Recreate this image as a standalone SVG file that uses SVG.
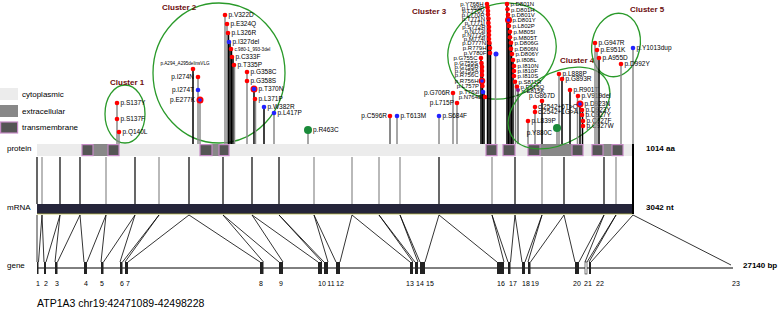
<svg xmlns="http://www.w3.org/2000/svg" width="778" height="310" viewBox="0 0 778 310">
<style>
text{font-family:"Liberation Sans",Arial,sans-serif;fill:#000}
.ax{font-size:8px}
.lbl{font-size:6.5px}
.st{font-size:6px}
.sm{font-size:4.6px}
.L{text-anchor:end}
.M{text-anchor:middle}
.cl{font-size:8px;font-weight:bold;fill:#6b0d0d}
.num{font-size:7px;text-anchor:middle}
.sg{stroke:#8a8a8a;stroke-width:1.5}
.sk{stroke:#000;stroke-width:1.5}
.r{fill:#f00}
.b{fill:#2222ff}
.g{fill:#1a8a3a}
.p{fill:#8a1a8a}
.ell{fill:none;stroke:#2a9a2a;stroke-width:1.3}
.cyto{fill:#ececec}
.extra{fill:#888}
.tm{fill:#555;stroke:#c58ac5;stroke-width:1.2}
.tk{stroke:#000;stroke-width:1.2}
.tg{stroke:#8a8a8a;stroke-width:1.2}
.cn{stroke:#000;stroke-width:0.8;fill:none}
.ex{fill:#222}
</style>

<g id="legend">
<rect class="cyto" x="0" y="88" width="18" height="12"/>
<text class="ax" x="22" y="97">cytoplasmic</text>
<rect class="extra" x="0" y="105" width="18" height="12"/>
<text class="ax" x="22" y="114">extracellular</text>
<rect class="tm" x="0.6" y="122" width="17" height="11"/>
<text class="ax" x="22" y="130">transmembrane</text>
</g>

<g id="protein">
<text class="ax" x="7" y="151">protein</text>
<rect class="cyto" x="37" y="144" width="596" height="12"/>
<rect class="extra" x="93" y="144" width="15" height="12"/>
<rect class="extra" x="212" y="144" width="7" height="12"/>
<rect class="extra" x="540" y="144" width="32" height="12"/>
<rect class="extra" x="603" y="144" width="9" height="12"/>
<rect class="tm" x="82" y="144.6" width="11" height="11"/>
<rect class="tm" x="108" y="144.6" width="11" height="11"/>
<rect class="tm" x="200" y="144.6" width="12" height="11"/>
<rect class="tm" x="219" y="144.6" width="10" height="11"/>
<rect class="tm" x="486" y="144.6" width="11" height="11"/>
<rect class="tm" x="503" y="144.6" width="12" height="11"/>
<rect class="tm" x="528" y="144.6" width="12" height="11"/>
<rect class="tm" x="572" y="144.6" width="11" height="11"/>
<rect class="tm" x="592" y="144.6" width="11" height="11"/>
<rect class="tm" x="612" y="144.6" width="11" height="11"/>
<text class="ax" x="646" y="151" font-weight="bold">1014 aa</text>
</g>

<g id="mRNA">
<text class="ax" x="7" y="210">mRNA</text>
<rect x="37" y="204" width="596" height="10" fill="#25253a"/>
<line x1="37" y1="214" x2="633" y2="214" stroke="#b8b84a" stroke-width="0.8"/>
<text class="ax" x="646" y="210" font-weight="bold">3042 nt</text>
</g>

<g id="gene">
<text class="ax" x="7" y="268">gene</text>
<line x1="37" y1="268" x2="733" y2="268" stroke="#000" stroke-width="1"/>
<rect class="ex" x="37" y="262" width="1.5" height="12"/>
<rect class="ex" x="44" y="262" width="2" height="12"/>
<rect class="ex" x="55" y="262" width="2.5" height="12"/>
<rect class="ex" x="84" y="262" width="3" height="12"/>
<rect class="ex" x="101" y="262" width="2.5" height="12"/>
<rect class="ex" x="120" y="262" width="2.5" height="12"/>
<rect class="ex" x="125" y="262" width="3" height="12"/>
<rect class="ex" x="260" y="262" width="3.5" height="12"/>
<rect class="ex" x="279" y="262" width="4" height="12"/>
<rect class="ex" x="318" y="262" width="4" height="12"/>
<rect class="ex" x="324" y="262" width="4" height="12"/>
<rect class="ex" x="336" y="262" width="4" height="12"/>
<rect class="ex" x="410" y="262" width="3" height="12"/>
<rect class="ex" x="415" y="262" width="3" height="12"/>
<rect class="ex" x="420" y="262" width="5" height="12"/>
<rect class="ex" x="497" y="262" width="7" height="12"/>
<rect class="ex" x="508" y="262" width="2.5" height="12"/>
<rect class="ex" x="522" y="262" width="3" height="12"/>
<rect class="ex" x="528" y="262" width="2.5" height="12"/>
<rect class="ex" x="575" y="262" width="4" height="12"/>
<rect x="585" y="262" width="2" height="12" fill="#fff" stroke="#222" stroke-width="0.6"/>
<rect class="ex" x="589" y="262" width="2" height="12"/>
<text class="ax" x="743" y="268" font-weight="bold">27140 bp</text>
<text class="num" x="38" y="286">1</text>
<text class="num" x="46" y="286">2</text>
<text class="num" x="57" y="286">3</text>
<text class="num" x="86" y="286">4</text>
<text class="num" x="102" y="286">5</text>
<text class="num" x="122" y="286">6</text>
<text class="num" x="128" y="286">7</text>
<text class="num" x="261" y="286">8</text>
<text class="num" x="281" y="286">9</text>
<text class="num" x="322" y="286">10</text>
<text class="num" x="331" y="286">11</text>
<text class="num" x="340" y="286">12</text>
<text class="num" x="410" y="286">13</text>
<text class="num" x="420" y="286">14</text>
<text class="num" x="430" y="286">15</text>
<text class="num" x="501" y="286">16</text>
<text class="num" x="513" y="286">17</text>
<text class="num" x="526" y="286">18</text>
<text class="num" x="535" y="286">19</text>
<text class="num" x="577" y="286">20</text>
<text class="num" x="588" y="286">21</text>
<text class="num" x="600" y="286">22</text>
<text class="num" x="736" y="286">23</text>
</g>

<g id="connectors">
<line class="tk" x1="37" y1="157" x2="37" y2="204"/>
<line class="tg" x1="42" y1="157" x2="42" y2="204"/>
<line class="tk" x1="60" y1="157" x2="60" y2="204"/>
<line class="tk" x1="80" y1="157" x2="80" y2="204"/>
<line class="tg" x1="106" y1="157" x2="106" y2="204"/>
<line class="tk" x1="135" y1="157" x2="135" y2="204"/>
<line class="tg" x1="159" y1="157" x2="159" y2="204"/>
<line class="tk" x1="189" y1="157" x2="189" y2="204"/>
<line class="tk" x1="223" y1="157" x2="223" y2="204"/>
<line class="tk" x1="252" y1="157" x2="252" y2="204"/>
<line class="tk" x1="279" y1="157" x2="279" y2="204"/>
<line class="tg" x1="314" y1="157" x2="314" y2="204"/>
<line class="tg" x1="352" y1="157" x2="352" y2="204"/>
<line class="tg" x1="379" y1="157" x2="379" y2="204"/>
<line class="tg" x1="400" y1="157" x2="400" y2="204"/>
<line class="tk" x1="439" y1="157" x2="439" y2="204"/>
<line class="tg" x1="492" y1="157" x2="492" y2="204"/>
<line class="tk" x1="515" y1="157" x2="515" y2="204"/>
<line class="tg" x1="542" y1="157" x2="542" y2="204"/>
<line class="tk" x1="564" y1="157" x2="564" y2="204"/>
<line class="tk" x1="604" y1="157" x2="604" y2="204"/>
<line class="tg" x1="616" y1="157" x2="616" y2="204"/>
<line x1="633" y1="144" x2="633" y2="214" stroke="#000" stroke-width="2"/>
<path class="cn" d="M37 215L37 262M42 215L38.5 262M42 215L44 262M60 215L46 262M60 215L55 262M80 215L57.5 262M80 215L84 262M106 215L87 262M106 215L101 262M135 215L103.5 262M135 215L120 262M159 215L122.5 262M159 215L125 262M189 215L128 262M189 215L260 262M223 215L263.5 262M223 215L279 262M252 215L283 262M252 215L318 262M279 215L322 262M279 215L324 262M314 215L328 262M314 215L336 262M352 215L340 262M352 215L410 262M379 215L413 262M379 215L415 262M400 215L418 262M400 215L420 262M439 215L425 262M439 215L497 262M492 215L504 262M492 215L508 262M515 215L510.5 262M515 215L522 262M542 215L525 262M542 215L528 262M564 215L530.5 262M564 215L575 262M604 215L579 262M604 215L585 262M616 215L587 262M616 215L589 262M633 215L591 262M633 215L731 265"/>
</g>

<g id="cluster1">
<ellipse class="ell" cx="125" cy="114" rx="20" ry="29"/>
<text class="cl" x="110" y="85">Cluster 1</text>
<line class="sg" x1="117" y1="103" x2="117" y2="144"/>
<line class="sg" x1="119" y1="132" x2="119" y2="144"/>
<circle class="r" cx="117" cy="103" r="2.3"/>
<circle class="r" cx="117" cy="119" r="2.3"/>
<circle class="r" cx="119" cy="132" r="2.3"/>
<text class="lbl" x="120.5" y="105.3">p.S137Y</text>
<text class="lbl" x="120.5" y="121.3">p.S137F</text>
<text class="lbl" x="122.5" y="134.3">p.Q140L</text>
</g>

<g id="cluster2">
<ellipse class="ell" cx="219" cy="73" rx="66" ry="70"/>
<text class="cl" x="162" y="10">Cluster 2</text>
<line class="sk" x1="193" y1="69" x2="193" y2="144"/>
<line class="sg" x1="198" y1="77" x2="198" y2="144"/>
<line class="sg" x1="200" y1="100" x2="200" y2="144"/>
<line class="sg" x1="225" y1="15" x2="225" y2="144"/>
<line class="sg" x1="227" y1="24" x2="227" y2="144"/>
<line class="sk" x1="228.5" y1="33" x2="228.5" y2="144"/>
<line class="sk" x1="230" y1="42" x2="230" y2="144"/>
<line class="sk" x1="231.5" y1="49" x2="231.5" y2="144"/>
<line class="sk" x1="233" y1="57" x2="233" y2="144"/>
<line class="sg" x1="234.5" y1="65" x2="234.5" y2="144"/>
<line class="sg" x1="247" y1="72" x2="247" y2="144"/>
<line class="sk" x1="254" y1="89" x2="254" y2="144"/>
<line class="sg" x1="255.5" y1="99" x2="255.5" y2="144"/>
<line class="sk" x1="264" y1="107" x2="264" y2="144"/>
<line class="sg" x1="274" y1="113" x2="274" y2="144"/>
<circle class="r" cx="193" cy="69" r="2.3"/>
<circle class="r" cx="198" cy="77" r="2.3"/>
<circle class="b" cx="198" cy="90" r="2.3"/>
<circle class="r" cx="200" cy="100" r="3.5"/>
<circle class="b" cx="200" cy="100" r="1.8"/>
<circle class="r" cx="225" cy="15" r="2.3"/>
<circle class="r" cx="227" cy="24" r="2.3"/>
<circle class="r" cx="228" cy="33" r="2.3"/>
<circle class="b" cx="229" cy="42" r="2.3"/>
<circle class="r" cx="231" cy="49" r="2.3"/>
<circle class="r" cx="232" cy="57" r="2.3"/>
<circle class="r" cx="234" cy="65" r="2.3"/>
<circle class="r" cx="247" cy="72" r="2.3"/>
<circle class="r" cx="247" cy="81" r="2.3"/>
<circle class="r" cx="254" cy="89" r="3.5"/>
<circle class="b" cx="254" cy="89" r="2.3"/>
<circle class="r" cx="255" cy="99" r="2.3"/>
<circle class="b" cx="264" cy="107" r="2.3"/>
<circle class="b" cx="274" cy="113" r="2.3"/>
<text class="sm M" x="185" y="65">p.A294_A295delinsVLG</text>
<text class="lbl L" x="194" y="79.3">p.I274N</text>
<text class="lbl L" x="194" y="92.3">p.I274T</text>
<text class="lbl L" x="195" y="102.3">p.E277K</text>
<text class="lbl" x="228.5" y="17.3">p.V322D</text>
<text class="lbl" x="230.5" y="26.3">p.E324Q</text>
<text class="lbl" x="231.5" y="35.3">p.L326R</text>
<text class="lbl" x="232.5" y="44.3">p.I327del</text>
<text class="sm" x="234.5" y="50.7">c.980-1_993-3del</text>
<text class="lbl" x="235.5" y="59.3">p.C333F</text>
<text class="lbl" x="237.5" y="67.3">p.T335P</text>
<text class="lbl" x="250.5" y="74.3">p.G358C</text>
<text class="lbl" x="250.5" y="83.3">p.G358S</text>
<text class="lbl" x="258.5" y="91.3">p.T370N</text>
<text class="lbl" x="258.5" y="101.3">p.L371P</text>
<text class="lbl" x="267.5" y="109.3">p.W382R</text>
<text class="lbl" x="277.5" y="115.3">p.L417P</text>
</g>

<g id="middle">
<line class="sg" x1="308" y1="130" x2="308" y2="144"/>
<line x1="390" y1="116" x2="390" y2="144" stroke="#8a8a8a" stroke-width="2"/>
<line class="sg" x1="397" y1="116" x2="397" y2="144"/>
<line class="sg" x1="439" y1="116" x2="439" y2="144"/>
<line class="sg" x1="453" y1="93" x2="453" y2="144"/>
<line class="sg" x1="457" y1="103" x2="457" y2="144"/>
<circle class="g" cx="308" cy="130" r="4"/>
<circle class="r" cx="390" cy="116" r="2.3"/>
<circle class="b" cx="397" cy="116" r="2.3"/>
<circle class="b" cx="439" cy="116" r="2.3"/>
<circle class="r" cx="453" cy="93" r="2.3"/>
<circle class="r" cx="457" cy="103" r="2.3"/>
<text class="lbl" x="313" y="132.3">p.R463C</text>
<text class="lbl L" x="387" y="118.3">p.C596R</text>
<text class="lbl" x="400.5" y="118.3">p.T613M</text>
<text class="lbl" x="442.5" y="118.3">p.S684F</text>
<text class="lbl L" x="450" y="95.3">p.G706R</text>
<text class="lbl L" x="454" y="105.3">p.L715P</text>
</g>

<g id="cluster3">
<ellipse class="ell" cx="502" cy="51" rx="55" ry="47" transform="rotate(-20 502 51)"/>
<text class="cl" x="412" y="14">Cluster 3</text>
<g class="sk">
<line x1="481" y1="58" x2="481" y2="144"/><line x1="482.5" y1="63" x2="482.5" y2="144"/><line x1="484" y1="92" x2="484" y2="144"/>
<line x1="487.5" y1="4" x2="487.5" y2="144"/><line x1="489" y1="18" x2="489" y2="144"/><line x1="490.5" y1="43" x2="490.5" y2="144"/>
<line x1="507" y1="4" x2="507" y2="144"/><line x1="508.5" y1="20" x2="508.5" y2="144"/><line x1="510" y1="32" x2="510" y2="144"/><line x1="511.5" y1="43" x2="511.5" y2="144"/><line x1="513" y1="60" x2="513" y2="144"/>
<line x1="518" y1="90" x2="518" y2="144" stroke-width="1"/>
</g>
<line class="sg" x1="495.5" y1="54" x2="495.5" y2="144"/>
<line class="sg" x1="515.5" y1="82" x2="515.5" y2="144"/>
<g class="r">
<circle cx="487" cy="4" r="2.3"/><circle cx="487.5" cy="7.5" r="2.3"/><circle cx="488" cy="11" r="2.3"/><circle cx="488" cy="14.5" r="2.3"/><circle cx="488.5" cy="18.5" r="2.3"/><circle cx="488.5" cy="23" r="2.3"/><circle cx="489" cy="27" r="2.3"/><circle cx="489" cy="31" r="2.3"/><circle cx="489" cy="35" r="2.3"/><circle cx="489" cy="39" r="2.3"/><circle cx="489.5" cy="43" r="2.3"/><circle cx="490" cy="48" r="2.3"/><circle cx="490" cy="53" r="2.3"/>
<circle cx="481" cy="58" r="2.3"/><circle cx="481.5" cy="63" r="2.3"/><circle cx="482" cy="67" r="2.3"/><circle cx="482" cy="71" r="2.3"/><circle cx="482" cy="75" r="2.3"/><circle cx="482" cy="81" r="3.3"/><circle cx="482.5" cy="86" r="2.3"/><circle cx="485" cy="97" r="2.3"/>
<circle cx="507" cy="4" r="2.3"/><circle cx="507.5" cy="9.3" r="2.3"/><circle cx="508" cy="14.7" r="2.3"/><circle cx="508.5" cy="20" r="3.5"/><circle cx="509" cy="26" r="2.3"/><circle cx="510" cy="31.7" r="2.3"/><circle cx="510" cy="37.3" r="2.3"/><circle cx="511" cy="42.7" r="2.3"/><circle cx="511" cy="48.7" r="2.3"/><circle cx="512" cy="54" r="2.3"/><circle cx="513" cy="60" r="2.3"/><circle cx="514" cy="66" r="2.3"/><circle cx="514" cy="71" r="2.3"/><circle cx="514" cy="76" r="2.3"/><circle cx="515" cy="81.7" r="2.3"/><circle cx="517" cy="86.7" r="2.3"/>
</g>
<circle class="b" cx="482" cy="81" r="1.8"/>
<circle class="b" cx="483" cy="92" r="2.3"/>
<circle class="b" cx="496" cy="54" r="2.5"/>
<circle class="b" cx="508.5" cy="20" r="1.8"/>
<circle class="p" cx="518" cy="90" r="2"/>
<g class="st L">
<text x="483.5" y="6.3">p.Y768H</text><text x="484" y="9.8">p.L769P</text><text x="484.5" y="13.3">p.L770V</text><text x="484.5" y="16.8">p.L770R</text><text x="485" y="20.8">p.T771N</text><text x="485" y="25.3">p.T771I</text><text x="485.5" y="29.3">p.S772R</text><text x="485.5" y="33.3">p.N773I</text><text x="485.5" y="37.3">p.N773S</text><text x="485.5" y="41.3">p.M774I</text><text x="486" y="45.3">p.D777N</text><text x="486.5" y="50.3">p.R779H</text><text x="486.5" y="55.3">p.V780F</text>
<text x="477.5" y="60.3">p.G755C</text><text x="478" y="65.3">p.G755S</text><text x="478.5" y="69.3">p.G755R</text><text x="478.5" y="73.3">p.G755A</text><text x="478.5" y="77.3">p.R756C</text><text x="478.5" y="83.3">p.R756H</text><text x="479" y="88.3">p.L757P</text><text x="479.5" y="94.3">p.T763I</text><text x="482" y="99.3">p.N764E</text>
</g>
<g class="st">
<text x="510.5" y="6.3">p.D801N</text><text x="511" y="11.6">p.D801H</text><text x="511.5" y="17">p.D801V</text><text x="512.5" y="22.3">p.D801Y</text><text x="512.5" y="28.3">p.L802P</text><text x="513.5" y="34">p.M805I</text><text x="513.5" y="39.6">p.M805T</text><text x="514.5" y="45">p.D806G</text><text x="514.5" y="51">p.D806N</text><text x="515.5" y="56.3">p.D806Y</text><text x="516.5" y="62.3">p.I808L</text><text x="517.5" y="68.3">p.I810N</text><text x="517.5" y="73.3">p.I810F</text><text x="517.5" y="78.3">p.I810S</text><text x="518.5" y="84">p.S811R</text><text x="520.5" y="89">p.E815Q</text><text x="521.5" y="93">p.E815K</text>
</g>
</g>

<g id="cluster4">
<ellipse class="ell" cx="559" cy="108" rx="55" ry="35" transform="rotate(-30 559 108)"/>
<text class="cl" x="560" y="63">Cluster 4</text>
<line class="sg" x1="528" y1="121" x2="528" y2="144"/>
<line class="sg" x1="535" y1="107" x2="535" y2="144"/>
<line class="sk" x1="542" y1="101" x2="542" y2="144"/>
<line class="sg" x1="557" y1="128" x2="557" y2="144"/>
<line class="sg" x1="559" y1="74" x2="559" y2="144"/>
<line class="sk" x1="562" y1="79" x2="562" y2="144"/>
<line class="sk" x1="570" y1="90" x2="570" y2="144"/>
<line class="sg" x1="577.5" y1="96" x2="577.5" y2="144"/>
<line class="sk" x1="580" y1="104" x2="580" y2="144"/>
<line class="sk" x1="582.5" y1="110" x2="582.5" y2="144"/>
<circle class="r" cx="528" cy="121" r="2.3"/>
<circle class="r" cx="535" cy="107" r="2.3"/>
<circle class="r" cx="535" cy="112" r="2.3"/>
<circle class="r" cx="542" cy="101" r="2.3"/>
<circle class="g" cx="557" cy="128" r="4"/>
<circle class="r" cx="559" cy="74" r="2.3"/>
<circle class="r" cx="562" cy="79" r="2.3"/>
<circle class="r" cx="570" cy="90" r="2.3"/>
<circle class="r" cx="578" cy="96" r="2.3"/>
<circle class="r" cx="580" cy="104" r="3.5"/>
<circle class="b" cx="580" cy="104" r="1.8"/>
<circle class="r" cx="582" cy="110" r="2.3"/>
<circle class="r" cx="582" cy="115" r="2.3"/>
<circle class="r" cx="583" cy="121" r="2.3"/>
<circle class="r" cx="583" cy="126" r="2.3"/>
<text class="lbl" x="531.5" y="123.3">p.L839P</text>
<text class="lbl" x="538" y="109.3">c.2542+6T&gt;C</text>
<text class="lbl" x="538" y="114.3">c.2542+1G&gt;A</text>
<text class="lbl M" x="542" y="97.5">p.G867D</text>
<text class="lbl L" x="552" y="135">p.Y880C</text>
<text class="lbl" x="562.5" y="76.3">p.L888P</text>
<text class="lbl" x="565.5" y="81.3">p.G893R</text>
<text class="lbl" x="573.5" y="92.3">p.R901T</text>
<text class="lbl" x="581.5" y="98.3">p.V919del</text>
<text class="lbl" x="584.5" y="106.3">p.D923N</text>
<text class="lbl" x="585.5" y="112.3">p.D923Y</text>
<text class="lbl" x="585.5" y="117.3">p.C927Y</text>
<text class="lbl" x="586.5" y="123.3">p.C927F</text>
<text class="lbl" x="586.5" y="128.3">p.C927W</text>
</g>

<g id="cluster5">
<ellipse class="ell" cx="616" cy="45" rx="24" ry="32" transform="rotate(12 616 45)"/>
<text class="cl" x="630" y="12">Cluster 5</text>
<line class="sg" x1="595" y1="43" x2="595" y2="144"/>
<line class="sg" x1="597" y1="50" x2="597" y2="144"/>
<line class="sk" x1="599" y1="58" x2="599" y2="144"/>
<line class="sg" x1="621" y1="64" x2="621" y2="144"/>
<line class="sg" x1="633" y1="48" x2="633" y2="144"/>
<circle class="r" cx="595" cy="43" r="2.3"/>
<circle class="r" cx="597" cy="50" r="2.3"/>
<circle class="r" cx="599" cy="58" r="2.3"/>
<circle class="r" cx="621" cy="64" r="2.3"/>
<circle class="b" cx="633" cy="48" r="2.3"/>
<text class="lbl" x="598.5" y="45.3">p.G947R</text>
<text class="lbl" x="600.5" y="52.3">p.E951K</text>
<text class="lbl" x="602.5" y="60.3">p.A955D</text>
<text class="lbl" x="624.5" y="66.3">p.D992Y</text>
<text class="lbl" x="636.5" y="50.3">p.Y1013dup</text>
</g>

<text x="37" y="307" font-size="10.5">ATP1A3 chr19:42471089-42498228</text>
</svg>
